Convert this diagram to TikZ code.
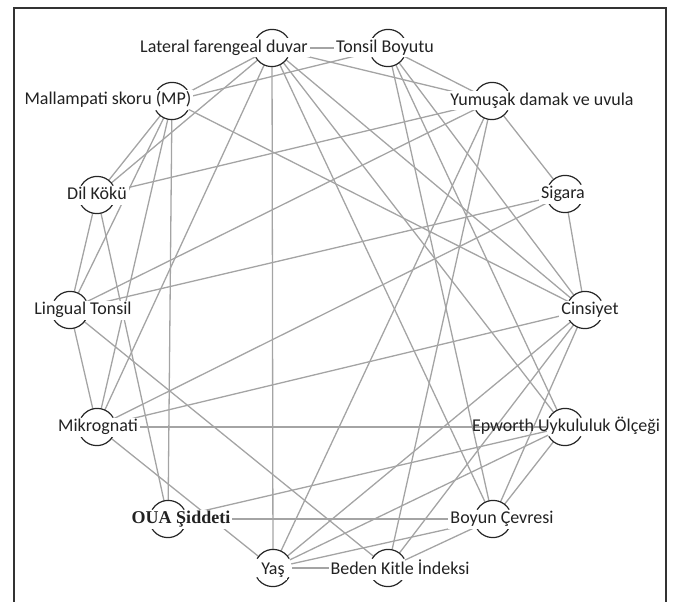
\documentclass[tikz,border=0pt]{standalone}
\usepackage{fontspec}
\setmainfont{Carlito}
\newfontfamily\timesb{Liberation Serif}
\definecolor{edgegray}{HTML}{A4A4A4}
\definecolor{txt}{HTML}{222222}
\begin{document}
\begin{tikzpicture}[x=1pt,y=-1pt,
  nd/.style={circle,minimum size=37pt,inner sep=0pt,draw=none},
  edge/.style={draw=edgegray,line width=1.3pt},
  arcst/.style={draw=black!85,line width=1.2pt},
  lab/.style={fill=white,inner xsep=2pt,inner ysep=1pt,text=txt,font=\fontsize{18}{20}\selectfont,text height=13pt,text depth=4pt},
]
\useasboundingbox (0,0) rectangle (678,602);
\draw[black!80,line width=1.2pt] (14,602) -- (14,8) -- (666,8) -- (666,602);

\node[nd] (LF) at (272,48) {};
\node[nd] (TB) at (388,48) {};
\node[nd] (YD) at (492,101) {};
\node[nd] (SG) at (565,194) {};
\node[nd] (CN) at (585,310) {};
\node[nd] (EP) at (565,427) {};
\node[nd] (BC) at (493,519) {};
\node[nd] (BK) at (388,568) {};
\node[nd] (YS) at (273,568) {};
\node[nd] (OU) at (168,519) {};
\node[nd] (MK) at (97,427) {};
\node[nd] (LT) at (70,310) {};
\node[nd] (DK) at (97,195) {};
\node[nd] (MP) at (172,101) {};

\foreach \a/\b in {LF/TB,LF/YD,LF/MP,LF/DK,LF/MK,LF/YS,LF/CN,LF/EP,LF/BC,
  TB/MP,TB/YD,TB/CN,TB/EP,TB/BC,
  YD/DK,YD/LT,YD/SG,YD/YS,YD/BK,
  SG/CN,SG/LT,SG/MK,
  CN/MP,CN/MK,CN/YS,CN/BK,CN/BC,
  EP/MK,EP/OU,EP/YS,EP/BC,
  BC/OU,BC/YS,BC/BK,
  BK/YS,BK/LT,
  YS/MK,
  OU/MP,OU/DK,
  MK/LT,MK/MP,
  LT/DK,LT/MP,
  DK/MP}
  \draw[edge] (\a) -- (\b);

\foreach \n in {LF,TB,YD,SG,CN,EP,BC,BK,YS,OU,MK,LT,DK,MP}{
  \draw[arcst] (\n.30) arc[start angle=30,end angle=150,radius=18.5pt];
  \draw[arcst] (\n.210) arc[start angle=210,end angle=330,radius=18.5pt];
}

\node[lab] (LFl) at (224,48) {Lateral farengeal duvar};
\node[lab] (TBl) at (385,48) {Tonsil Boyutu};
\node[lab] (YDl) at (542,101) {Yumuşak damak ve uvula};
\node[lab] (SGl) at (563,194) {Sigara};
\node[lab] (CNl) at (590,310) {Cinsiyet};
\node[lab,fill=none] (EPl) at (566,427) {Epworth Uykululuk Ölçeği};
\node[lab] (BCl) at (502,519) {Boyun Çevresi};
\node[lab] (BKl) at (400,570) {Beden Kitle İndeksi};
\node[lab] (YSl) at (273,570) {Yaş};
\node[lab,font={\timesb\bfseries\fontsize{18}{20}\selectfont}] (OUl) at (181,519) {OUA Şiddeti};
\node[lab] (MKl) at (98,427) {Mikrognati};
\node[lab] (LTl) at (83,310) {Lingual Tonsil};
\node[lab] (DKl) at (97,195) {Dil Kökü};
\node[lab] (MPl) at (108,100) {Mallampati skoru (MP)};
\end{tikzpicture}
\end{document}
